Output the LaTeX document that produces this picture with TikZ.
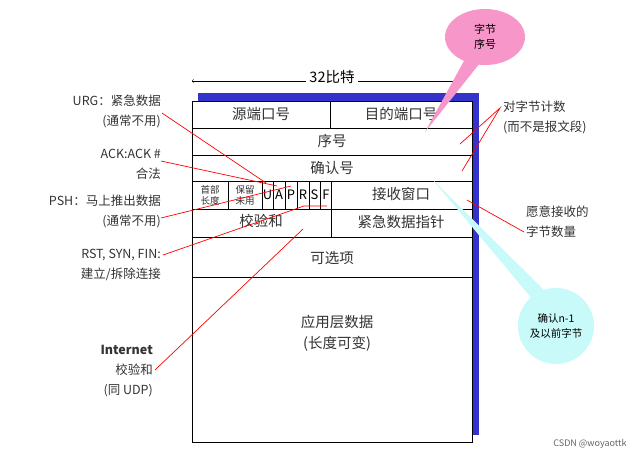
\documentclass[tikz,border=0pt]{standalone}
\usepackage{fontspec}
\setmainfont{Noto Sans CJK SC}
\usetikzlibrary{shapes.geometric}
\definecolor{shadowblue}{RGB}{51,51,204}
\definecolor{pinkcall}{RGB}{247,150,200}
\definecolor{cyancall}{RGB}{200,250,250}
\tikzset{
  field/.style={font=\fontsize{14.5}{17}\selectfont, inner sep=0pt, text=black!80},
  note/.style={font=\fontsize{12.5}{20}\selectfont, align=right, inner sep=0pt, text=black!80},
  lead/.style={red, line width=0.7pt},
}
\begin{document}
\begin{tikzpicture}[x=1pt,y=-1pt]
    \useasboundingbox (0,0) rectangle (632,456);
    % header box
    \fill[shadowblue] (198,93) rectangle (479,435);
    \fill[white] (192,101) rectangle (472,442);
    \draw[thick] (192,101) rectangle (472,442);
    \draw[thick] (192,128) -- (472,128);
    \draw[thick] (192,155) -- (472,155);
    \draw[thick] (192,181) -- (472,181);
    \draw[thick] (192,209) -- (472,209);
    \draw[thick] (192,237) -- (472,237);
    \draw[thick] (192,277) -- (472,277);
    \draw[thick] (330,101) -- (330,128);
    \draw[thick] (331,181) -- (331,237);
    \foreach \x in {228,262,273,285,297,309,320} \draw (\x,181) -- (\x,209);

    \node[field] (src) at (261,114) {源端口号};
    \node[field] (dst) at (401,114) {目的端口号};
    \node[field] (seq) at (332,141) {序号};
    \node[field] (ack) at (332,168) {确认号};
    \node[font=\fontsize{9.5}{11}\selectfont, align=center, inner sep=0pt, text=black!80] (hlen) at (210,195) {首部\\长度};
    \node[font=\fontsize{9.5}{11}\selectfont, align=center, inner sep=0pt, text=black!80] (resv) at (245,195) {保留\\未用};
    \foreach \f/\x in {U/267.5,A/279,P/291,R/303,S/314.5,F/326}
      \node[font=\fontsize{13}{15}\selectfont, inner sep=0pt] (flag\f) at (\x,195) {\f};
    \node[field] (rwnd) at (401,194) {接收窗口};
    \node[field] (csum) at (261,221) {校验和};
    \node[field] (urgp) at (401,222) {紧急数据指针};
    \node[field] (opts) at (332,258) {可选项};
    \node[field, align=center, font=\fontsize{14.5}{21}\selectfont] (data) at (337,333) {应用层数据\\(长度可变)};

    % width arrow
    \node[font=\fontsize{14.5}{17}\selectfont] (bits) at (332,77) {32比特};
    \coordinate (wl) at (192,81);
    \coordinate (wr) at (458,81);
    \draw[->] (bits.west |- wl) -- (wl);
    \draw (bits.east |- wr) -- (wr);

    % callouts
    \fill[cyancall] (433,180) -- (533,300) -- (548,294) -- cycle;
    \node[circle, fill=cyancall, minimum size=76pt, inner sep=0pt, font=\fontsize{10.5}{15}\selectfont, align=center] (cack) at (556,326) {确认n-1\\及以前字节};
    \fill[pinkcall] (425,132) -- (470,50) -- (484,58) -- cycle;
    \node[ellipse, fill=pinkcall, minimum width=80pt, minimum height=56pt, inner sep=0pt, font=\fontsize{11}{15}\selectfont, align=center] (cseq) at (485,37) {字节\\序号};

    % notes on the left
    \node[note, anchor=east] (urg) at (161,111) {URG：紧急数据\\(通常不用)};
    \node[note, anchor=east] (ackf) at (161,164) {ACK:ACK \#\\合法};
    \node[note, anchor=east] (psh) at (161,211) {PSH：马上推出数据\\(通常不用)};
    \node[note, anchor=east] (rst) at (161,265) {RST, SYN, FIN:\\建立/拆除连接};
    \node[note, anchor=east] (inet) at (153,371) {\textbf{Internet}\\校验和\\(同 UDP)};
    % notes on the right
    \node[note, anchor=west, align=left] (cnt) at (503,117) {对字节计数\\(而不是报文段)};
    \node[note, anchor=west, align=left] (win) at (526,222) {愿意接收的\\字节数量};

    \coordinate (pu) at (266,183);
    \coordinate (pa) at (277,186);
    \coordinate (pp) at (291,186);
    \coordinate (pr) at (304,206);
    \coordinate (pf) at (327,206);
    \coordinate (pc) at (303,229);
    \coordinate (pk) at (500,108);
    \coordinate (ps) at (460,144);
    \coordinate (pn) at (462,171);
    \coordinate (pw) at (467,200);
    \coordinate (pv) at (524,232);
    \draw[lead] (162,113) -- (pu);
    \draw[lead] (161,161) -- (pa);
    \draw[lead] (161,218) -- (pp);
    \draw[lead] (163,255) -- (pr) -- (pf);
    \draw[lead] (155,370) -- (pc);
    \draw[lead] (ps) -- (pk) -- (pn);
    \draw[lead] (pw) -- (pv);

    \node[font=\fontsize{9}{10}\selectfont, text=black!60, anchor=south east] (mark) at (630,452) {CSDN @woyaottk};
\end{tikzpicture}
\end{document}
